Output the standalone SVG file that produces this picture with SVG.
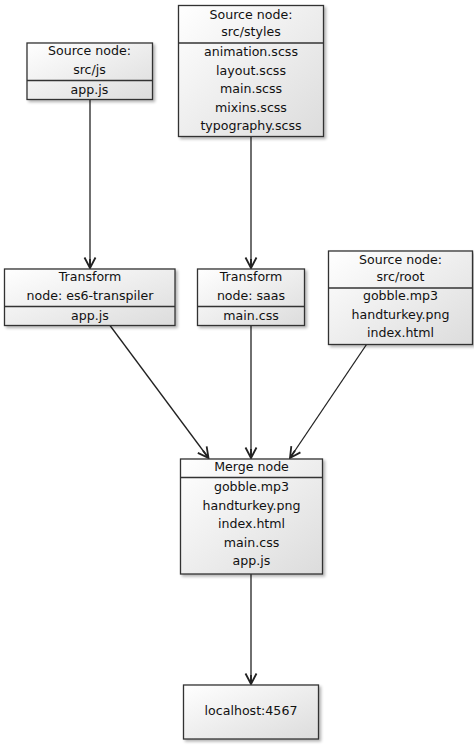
<svg xmlns="http://www.w3.org/2000/svg" width="474" height="745" viewBox="0 0 474 745">
<defs>
<linearGradient id="g" x1="0" y1="0" x2="1" y2="1">
<stop offset="0" stop-color="#ffffff"/>
<stop offset="1" stop-color="#dcdcdc"/>
</linearGradient>
<filter id="sh" x="-10%" y="-10%" width="130%" height="130%">
<feGaussianBlur in="SourceAlpha" stdDeviation="1.5"/>
<feOffset dx="2" dy="2" result="b"/>
<feComponentTransfer><feFuncA type="linear" slope="0.3"/></feComponentTransfer>
<feMerge><feMergeNode/><feMergeNode in="SourceGraphic"/></feMerge>
</filter>
<marker id="arr" markerUnits="userSpaceOnUse" markerWidth="14" markerHeight="14" viewBox="0 0 14 14" refX="12" refY="7" orient="auto">
<path d="M1.5,1.5 L12,7 L1.5,12.5 M12,7 L3,7" fill="none" stroke="#222" stroke-width="1.8"/>
</marker>
</defs>
<style>
.box{fill:url(#g);stroke:#333;stroke-width:1.3;filter:url(#sh)}
.div{stroke:#333;stroke-width:1.3}
text{font-family:"DejaVu Sans",sans-serif;font-size:12.6px;fill:#111;text-anchor:middle}
.edge{stroke:#222;stroke-width:1.3;fill:none;marker-end:url(#arr)}
</style>
<g id="connectors">
<line class="edge" x1="90" y1="99.5" x2="90" y2="268"/>
<line class="edge" x1="251" y1="137" x2="251" y2="268"/>
<line class="edge" x1="110" y1="325.5" x2="208.5" y2="458"/>
<line class="edge" x1="251" y1="325.5" x2="251" y2="458"/>
<line class="edge" x1="366.5" y1="344.5" x2="290" y2="458"/>
<line class="edge" x1="251" y1="574" x2="251" y2="684"/>
</g>
<g id="src-js">
<rect class="box" x="27" y="43" width="125.5" height="56.5"/>
<line class="div" x1="27" y1="80.5" x2="152.5" y2="80.5"/>
<text x="89.5" y="55">Source node:</text>
<text x="89.5" y="74">src/js</text>
<text x="89.5" y="93.5">app.js</text>
</g>
<g id="src-styles">
<rect class="box" x="178.5" y="5.5" width="145" height="131"/>
<line class="div" x1="178.5" y1="43" x2="323.5" y2="43"/>
<text x="251" y="18.5">Source node:</text>
<text x="251" y="36">src/styles</text>
<text x="251" y="56">animation.scss</text>
<text x="251" y="74.5">layout.scss</text>
<text x="251" y="93">main.scss</text>
<text x="251" y="111.5">mixins.scss</text>
<text x="251" y="130">typography.scss</text>
</g>
<g id="transform-es6">
<rect class="box" x="4.5" y="269" width="170.5" height="56.5"/>
<line class="div" x1="4.5" y1="306.5" x2="175" y2="306.5"/>
<text x="90" y="280.5">Transform</text>
<text x="90" y="299.5">node: es6-transpiler</text>
<text x="90" y="319.5">app.js</text>
</g>
<g id="transform-saas">
<rect class="box" x="197.5" y="269" width="107" height="56.5"/>
<line class="div" x1="197.5" y1="306.5" x2="304.5" y2="306.5"/>
<text x="251" y="280.5">Transform</text>
<text x="251" y="299.5">node: saas</text>
<text x="251" y="319.5">main.css</text>
</g>
<g id="src-root">
<rect class="box" x="328.5" y="251" width="144" height="93.5"/>
<line class="div" x1="328.5" y1="288" x2="472.5" y2="288"/>
<text x="400.5" y="263.5">Source node:</text>
<text x="400.5" y="281">src/root</text>
<text x="400.5" y="300">gobble.mp3</text>
<text x="400.5" y="318.5">handturkey.png</text>
<text x="400.5" y="337">index.html</text>
</g>
<g id="merge">
<rect class="box" x="180.5" y="459" width="142" height="115"/>
<line class="div" x1="180.5" y1="477.5" x2="322.5" y2="477.5"/>
<text x="251.5" y="471">Merge node</text>
<text x="251.5" y="491">gobble.mp3</text>
<text x="251.5" y="509.5">handturkey.png</text>
<text x="251.5" y="528">index.html</text>
<text x="251.5" y="546.5">main.css</text>
<text x="251.5" y="565">app.js</text>
</g>
<g id="localhost">
<rect class="box" x="183.5" y="685" width="135" height="54"/>
<text x="251" y="715">localhost:4567</text>
</g>
</svg>
